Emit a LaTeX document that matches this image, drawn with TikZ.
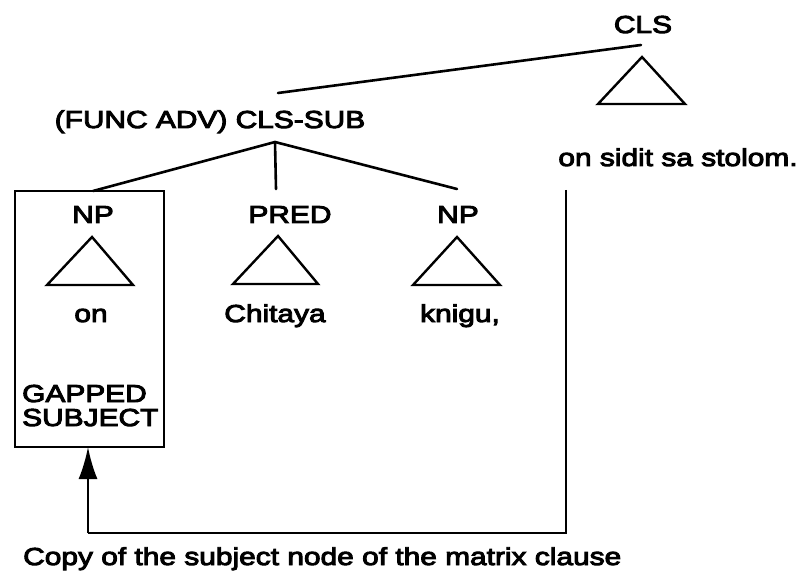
\documentclass[tikz,border=0pt]{standalone}
\usepackage{fontspec}
\setmainfont{Liberation Sans}[FakeStretch=1.22,FakeBold=4]
\usetikzlibrary{arrows.meta}
\begin{document}
\begin{tikzpicture}[x=1pt,y=-1pt,
  lbl/.style={inner sep=0pt,anchor=base,font=\fontsize{24.5}{28}\selectfont},
  lbll/.style={lbl,anchor=base west},
  branch/.style={line width=2.6pt,line cap=round},
  tri/.style={line width=2.4pt,line join=miter},
  thin/.style={line width=2.2pt}]
\useasboundingbox (0,0) rectangle (806,572);
% labels
\node[lbl] (cls) at (643,33) {CLS};
\node[lbl] (clssub) at (210,128) {(FUNC ADV) CLS-SUB};
\node[lbl] (sidit) at (678,166) {on sidit sa stolom.};
\node[lbl] (np1) at (93,223) {NP};
\node[lbl] (pred) at (290,223) {PRED};
\node[lbl] (np2) at (458,223) {NP};
\node[lbl] (on) at (91,322) {on};
\node[lbl] (chit) at (275,322) {Chitaya};
\node[lbl] (knigu) at (460,322) {knigu,};
\node[lbll] (gap) at (22,402) {GAPPED};
\node[lbll] (subj) at (22,426) {SUBJECT};
\node[lbll] (cap) at (23,565) {Copy of the subject node of the matrix clause};
% coordinates
\coordinate (clsfoot) at (641,45);
\coordinate (subtop) at (278,93);
\coordinate (subfoot) at (275,142);
\coordinate (np1top) at (93,191);
\coordinate (predtop) at (276,189);
\coordinate (np2top) at (457,189);
\coordinate (boxNW) at (15,191);
\coordinate (boxSE) at (164,447);
\coordinate (arrtip) at (88,447);
\coordinate (arrfoot) at (88,533);
\coordinate (corner) at (566,533);
\coordinate (vtop) at (566,190);
% tree branches
\draw[branch] (subtop) -- (clsfoot);
\draw[branch] (subfoot) -- (np1top);
\draw[branch] (subfoot) -- (predtop);
\draw[branch] (subfoot) -- (np2top);
% triangles
\draw[tri] (642,57) -- (685,104) -- (598,104) -- cycle;
\draw[tri] (92,237) -- (133,285) -- (47,285) -- cycle;
\draw[tri] (278,236) -- (318,284) -- (233,284) -- cycle;
\draw[tri] (457,237) -- (500,285) -- (413,285) -- cycle;
% gapped subject box
\draw[thin] (boxNW) rectangle (boxSE);
% copy arrow
\draw[thin] (vtop) -- (corner) -- (arrfoot);
\draw[thin,-{Latex[length=32pt,width=19pt]}] (arrfoot) -- (arrtip);
\end{tikzpicture}
\end{document}
